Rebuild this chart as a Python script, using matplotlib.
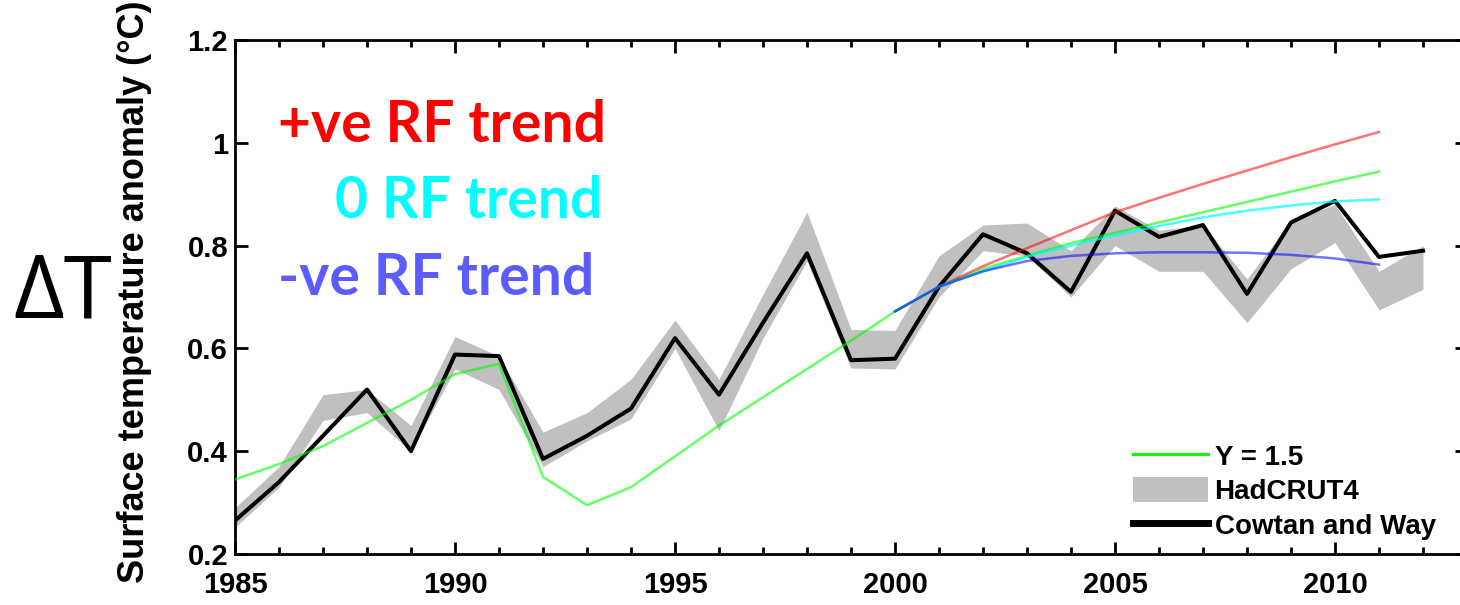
import numpy as np
import matplotlib
matplotlib.use('Agg')
import matplotlib.pyplot as plt
from matplotlib.patches import Patch
from matplotlib.lines import Line2D

# Cowtan and Way annual anomaly (black)
years = np.arange(1985, 2013)
cw = [0.265, 0.34, 0.43, 0.52, 0.40, 0.588, 0.585, 0.385, 0.43, 0.483,
      0.62, 0.51, 0.65, 0.785, 0.577, 0.58, 0.72, 0.822, 0.785, 0.71,
      0.868, 0.817, 0.84, 0.706, 0.845, 0.887, 0.778, 0.79]

# HadCRUT4 uncertainty band (grey)
had_lo = [0.252, 0.33, 0.46, 0.475, 0.40, 0.56, 0.52, 0.37, 0.42, 0.463,
          0.60, 0.44, 0.62, 0.77, 0.562, 0.56, 0.70, 0.79, 0.78, 0.70,
          0.80, 0.75, 0.75, 0.65, 0.755, 0.806, 0.675, 0.715]
had_hi = [0.29, 0.37, 0.51, 0.52, 0.45, 0.623, 0.585, 0.437, 0.475, 0.54,
          0.655, 0.54, 0.705, 0.865, 0.637, 0.635, 0.78, 0.84, 0.844, 0.79,
          0.877, 0.83, 0.84, 0.735, 0.848, 0.88, 0.75, 0.80]

# Y = 1.5 model run (green)
g_years = np.arange(1985, 2012)
green = [0.345, 0.375, 0.41, 0.455, 0.50, 0.55, 0.57, 0.35, 0.295, 0.33,
         0.39, 0.45, 0.505, 0.56, 0.615, 0.672, 0.72, 0.755, 0.78, 0.805,
         0.825, 0.845, 0.865, 0.885, 0.905, 0.925, 0.944]

# RF trend scenarios 2000-2011
t_years = np.arange(2000, 2012)
red = [0.672, 0.72, 0.76, 0.795, 0.83, 0.865, 0.893, 0.92, 0.946, 0.972, 0.997, 1.021]
cyan = [0.672, 0.72, 0.75, 0.778, 0.80, 0.82, 0.838, 0.855, 0.868, 0.878, 0.886, 0.89]
blue = [0.672, 0.72, 0.75, 0.77, 0.78, 0.785, 0.787, 0.787, 0.786, 0.782, 0.775, 0.763]

W, H = 1460, 605
fig = plt.figure(figsize=(W / 100, H / 100), dpi=100)
ax = fig.add_axes([235 / W, 51 / H, 1232 / W, 514 / H])

ax.fill_between(years, had_lo, had_hi, color='#c0c0c0', lw=0, zorder=1)
ax.plot(years, cw, color='black', lw=2.9, zorder=3)
ax.plot(g_years, green, color='#00ff00', lw=1.8, alpha=0.6, zorder=4)
ax.plot(t_years, red, color='#ff0000', lw=1.8, alpha=0.55, zorder=4)
ax.plot(t_years, cyan, color='#00ffff', lw=1.8, alpha=0.7, zorder=4)
ax.plot(t_years, blue, color='#0000ff', lw=1.8, alpha=0.55, zorder=4)

ax.set_xlim(1985, 2013)
ax.set_ylim(0.2, 1.2)
ax.set_xticks([1985, 1990, 1995, 2000, 2005, 2010])
ax.set_xticks(np.arange(1985, 2014), minor=True)
ax.set_yticks([0.2, 0.4, 0.6, 0.8, 1.0, 1.2])
ax.set_yticklabels(['0.2', '0.4', '0.6', '0.8', '1', '1.2'])
ax.tick_params(which='both', direction='in', top=True, right=True, width=2)
ax.tick_params(which='major', length=9, labelsize=21)
ax.tick_params(which='minor', length=5)
ax.tick_params(axis='x', pad=12.3)
ax.tick_params(axis='y', pad=5)
for lab in ax.get_xticklabels() + ax.get_yticklabels():
    lab.set_family('Liberation Sans')
    lab.set_fontweight('bold')
for s in ax.spines.values():
    s.set_linewidth(2)

ax.set_ylabel('Surface temperature anomaly (\u00b0C)', fontsize=26,
              family='Liberation Sans', fontweight='bold')
ax.yaxis.set_label_coords(-0.067, 0.51)

handles = [Line2D([], [], color='#00ff00', lw=2.2),
           Patch(facecolor='#c0c0c0', edgecolor='none'),
           Line2D([], [], color='black', lw=5)]
leg = ax.legend(handles, ['Y = 1.5', 'HadCRUT4', 'Cowtan and Way'],
                loc='lower left', bbox_to_anchor=(1114 / W, 46 / H),
                bbox_transform=fig.transFigure, frameon=False,
                prop={'family': 'Liberation Sans', 'size': 20, 'weight': 'bold'},
                handlelength=2.7, handleheight=1.0, handletextpad=0.22,
                labelspacing=0.23, borderpad=0.2)

def ftext(x, y, s, **kw):
    fig.text(x / W, 1 - y / H, s, va='baseline', ha='left', **kw)

ftext(278, 142, '+ve RF trend', color='#ff0000', fontsize=41,
      fontweight='bold', family='Lato')
ftext(335, 218, '0 RF trend', color='#00ffff', fontsize=41,
      fontweight='bold', family='Lato')
ftext(278, 295, '-ve RF trend', color='#5b5bff', fontsize=41,
      fontweight='bold', family='Lato')
ftext(13, 318, '\u0394T', color='black', fontsize=63,
      family=['Open Sans', 'DejaVu Sans'])

fig.savefig('out.png', dpi=100)
